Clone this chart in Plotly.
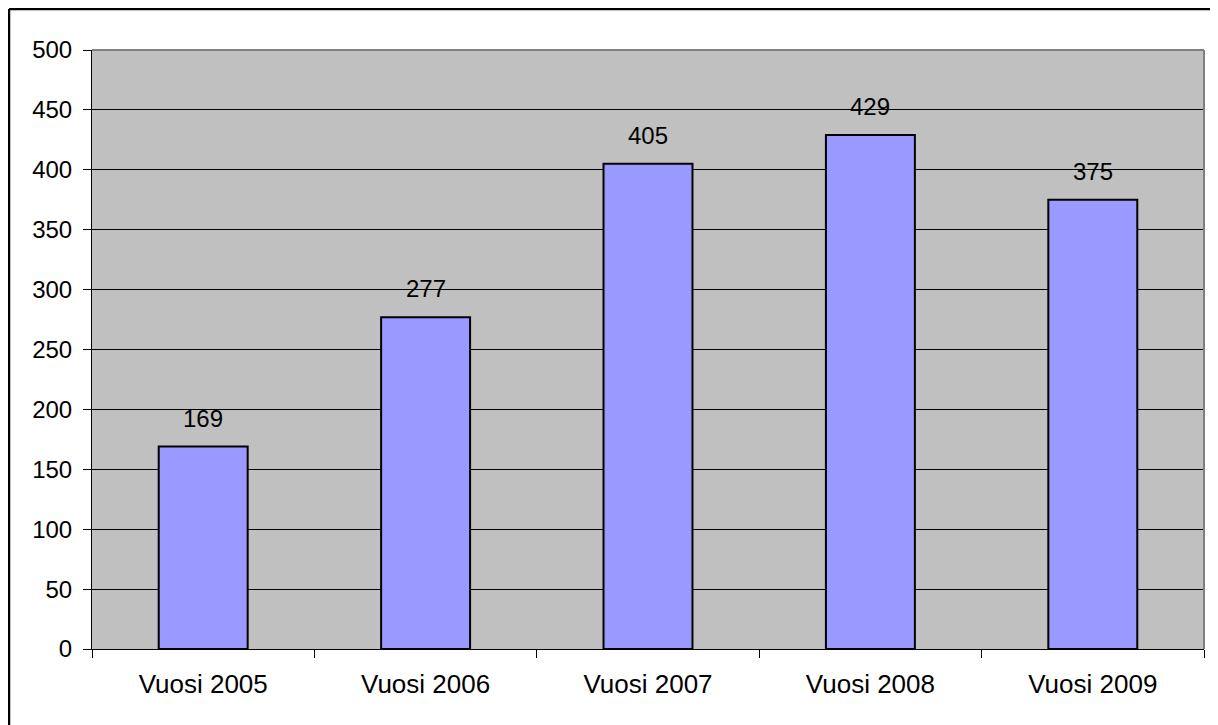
import plotly.graph_objects as go

categories = ["Vuosi 2005", "Vuosi 2006", "Vuosi 2007", "Vuosi 2008", "Vuosi 2009"]
values = [169, 277, 405, 429, 375]
y_ticks = [0, 50, 100, 150, 200, 250, 300, 350, 400, 450, 500]

# page has an 8px body margin, so the figure is sized/offset to compensate
W, H = 1210, 717
L, R, T, B = 84, 14, 42, 76
pw, ph = W - L - R, H - T - B

def px_x(px):
    return (px - L) / pw

def px_y(py):
    return 1 - (py - T) / ph

FONT = "Liberation Sans, Arial, sans-serif"

fig = go.Figure()
fig.add_trace(go.Bar(
    x=categories, y=values, width=0.4,
    marker=dict(color="#9999FF", line=dict(color="black", width=2)),
    hoverinfo="skip",
))

for c, v in zip(categories, values):
    fig.add_annotation(x=c, y=v, text=str(v), showarrow=False,
                       yanchor="bottom", yshift=13,
                       font=dict(family=FONT, size=24, color="black"))

# outer chart border (top and left visible)
fig.add_shape(type="line", xref="paper", yref="paper",
              x0=px_x(1), x1=px_x(1300), y0=px_y(1), y1=px_y(1),
              line=dict(color="black", width=2.5), layer="above")
fig.add_shape(type="line", xref="paper", yref="paper",
              x0=px_x(1), x1=px_x(1), y0=px_y(1), y1=px_y(800),
              line=dict(color="black", width=2.5), layer="above")
# plot area grey border top and right
fig.add_shape(type="line", xref="paper", yref="paper",
              x0=0, x1=1, y0=1, y1=1, line=dict(color="#808080", width=2), layer="above")
fig.add_shape(type="line", xref="paper", yref="paper",
              x0=1, x1=1, y0=0, y1=1, line=dict(color="#808080", width=2), layer="above")

fig.update_layout(
    width=W, height=H,
    margin=dict(l=L, r=R, t=T, b=B, pad=0),
    paper_bgcolor="white", plot_bgcolor="#C0C0C0",
    showlegend=False,
    font=dict(family=FONT, size=24, color="black"),
    bargap=0.6,
)
fig.update_xaxes(
    type="category", tickson="boundaries", ticks="outside", ticklen=8,
    tickcolor="black", tickwidth=1, showgrid=False, showline=True,
    linecolor="black", linewidth=1, range=[-0.5, 4.5],
    tickfont=dict(family=FONT, size=26, color="black"), ticklabelstandoff=12,
)
fig.update_yaxes(
    range=[0, 500], tickvals=y_ticks, ticktext=[str(t) for t in y_ticks],
    ticks="outside", ticklen=8, tickcolor="black", tickwidth=1,
    showgrid=True, gridcolor="black", gridwidth=1,
    showline=True, linecolor="black", linewidth=1, zeroline=False,
    tickfont=dict(family=FONT, size=24, color="black"), ticklabelstandoff=6,
)

fig.write_html("out.html")
